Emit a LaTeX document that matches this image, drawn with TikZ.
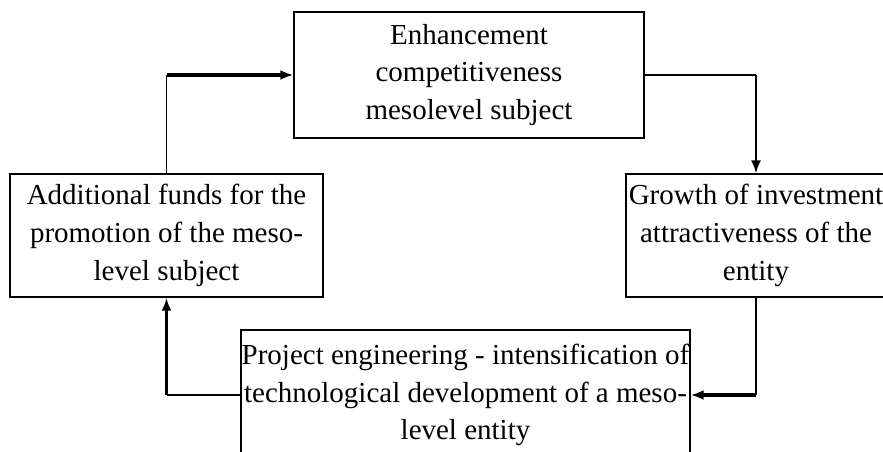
\documentclass[tikz,border=0pt]{standalone}
\usepackage{fontspec}
\setmainfont{Liberation Serif}
\usepackage{tikz}
\usetikzlibrary{arrows.meta}
\usetikzlibrary{positioning}
\tikzset{>={Latex[length=0.26cm,width=0.2cm]}}

\begin{document}
\begin{tikzpicture}[
        x=0.02cm, y=-0.02cm,
        box/.style={
            draw,
            line width=0.3mm,
            align=center,
            inner sep=0pt,
            font=\fontsize{16.5}{21.5}\selectfont,
        },
        thinlink/.style={line width=0.35mm},
        thicklink/.style={line width=0.75mm, ->},
    ]
        \useasboundingbox (0,0) rectangle (883,451);

        % stages of the cycle
        \node[box, minimum width=7cm, minimum height=2.52cm] (enh) at (469,75)
            {Enhancement\\competitiveness\\mesolevel subject};
        \node[box, minimum width=5.2cm, minimum height=2.46cm] (growth) at (756,235.5)
            {Growth of investment\\attractiveness of the\\entity};
        \node[box, minimum width=8.98cm, minimum height=2.6cm] (proj) at (465.5,395)
            {Project engineering - intensification of\\technological development of a meso-\\level entity};
        \node[box, minimum width=6.26cm, minimum height=2.46cm] (funds) at (166.5,235.5)
            {Additional funds for the\\promotion of the meso-\\level subject};

        % corners of the links
        \coordinate (c1) at (funds.north |- enh.west);
        \coordinate (c2) at (enh.east -| growth.north);
        \coordinate (c3) at (growth.south |- proj.east);
        \coordinate (c4) at (proj.west -| funds.south);

        % links
        \draw[thinlink] (funds.north) -- (c1);
        \draw[thicklink] (c1) -- (enh.west);

        \draw[thinlink] (enh.east) -- (c2);
        \draw[thinlink, ->] (c2) -- (growth.north);

        \draw[thinlink] (growth.south) -- (c3);
        \draw[thicklink] (c3) -- (proj.east);

        \draw[thinlink] (proj.west) -- (c4);
        \draw[thicklink] (c4) -- (funds.south);
    \end{tikzpicture}
\end{document}
